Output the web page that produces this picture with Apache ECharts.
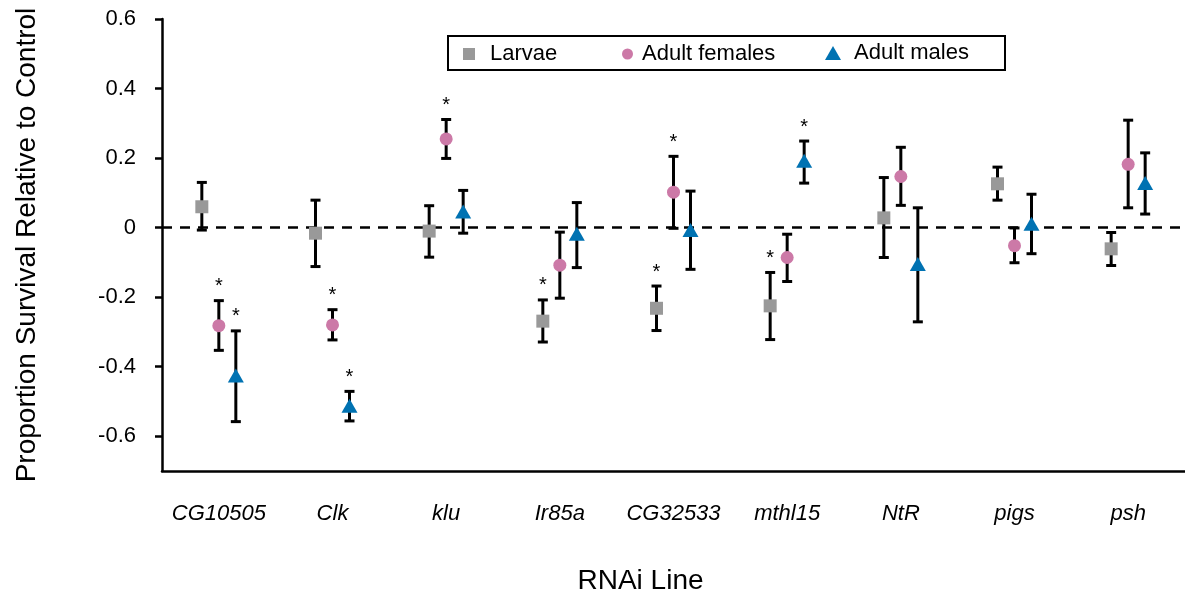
<!DOCTYPE html>
<html>
<head>
<meta charset="utf-8">
<script src="https://cdn.jsdelivr.net/npm/echarts@6/dist/echarts.min.js"></script>
<style>
  html, body { margin: 0; padding: 0; background: #ffffff; }
  #chart { width: 1185px; height: 600px; }
</style>
</head>
<body>
<div id="chart"></div>
<script>
// ---- Data ----
const categories = ['CG10505', 'Clk', 'klu', 'Ir85a', 'CG32533', 'mthl15', 'NtR', 'pigs', 'psh'];

const larvaeMean = [0.060, -0.016, -0.010, -0.269, -0.232, -0.225, 0.028, 0.126, -0.061];
const larvaeLow  = [-0.007, -0.112, -0.085, -0.329, -0.296, -0.322, -0.086, 0.079, -0.109];
const larvaeHigh = [0.130, 0.079, 0.063, -0.208, -0.168, -0.129, 0.144, 0.174, -0.014];
const larvaeSig  = [0, 0, 0, 1, 1, 1, 0, 0, 0];

const femalesMean = [-0.282, -0.280, 0.255, -0.108, 0.102, -0.086, 0.147, -0.052, 0.182];
const femalesLow  = [-0.353, -0.323, 0.199, -0.203, -0.002, -0.155, 0.064, -0.101, 0.057];
const femalesHigh = [-0.210, -0.236, 0.311, -0.013, 0.205, -0.019, 0.231, -0.001, 0.309];
const femalesSig  = [1, 1, 1, 0, 1, 0, 0, 0, 0];

const malesMean = [-0.425, -0.512, 0.046, -0.018, -0.007, 0.192, -0.105, 0.011, 0.128];
const malesLow  = [-0.558, -0.556, -0.016, -0.115, -0.120, 0.128, -0.271, -0.075, 0.039];
const malesHigh = [-0.297, -0.471, 0.107, 0.072, 0.105, 0.249, 0.057, 0.096, 0.215];
const malesSig  = [1, 1, 0, 0, 0, 1, 0, 0, 0];

const yTickValues = [-0.6, -0.4, -0.2, 0, 0.2, 0.4, 0.6];

// ---- Styling ----
const FONT = "'Liberation Sans', Arial, sans-serif";
const groups = [
  { name: 'Larvae', mean: larvaeMean, low: larvaeLow, high: larvaeHigh, sig: larvaeSig,
    color: '#999999', symbol: 'rect', size: 13, offset: -17 },
  { name: 'Adult females', mean: femalesMean, low: femalesLow, high: femalesHigh, sig: femalesSig,
    color: '#CC79A7', symbol: 'circle', size: 13, offset: 0 },
  { name: 'Adult males', mean: malesMean, low: malesLow, high: malesHigh, sig: malesSig,
    color: '#0072B2', symbol: 'triangle', size: [16, 14], offset: 17 }
];

function errorBarSeries(g) {
  return {
    type: 'custom',
    name: g.name + ' error',
    z: 3,
    silent: true,
    data: categories.map((c, i) => [i, g.low[i], g.high[i], g.sig[i]]),
    renderItem: function (params, api) {
      const xc = api.coord([api.value(0), 0])[0] + g.offset;
      const yLow = api.coord([api.value(0), api.value(1)])[1];
      const yHigh = api.coord([api.value(0), api.value(2)])[1];
      const capHalf = 5;
      const style = { stroke: '#000000', lineWidth: 3 };
      const children = [
        { type: 'line', shape: { x1: xc, y1: yLow, x2: xc, y2: yHigh }, style: style },
        { type: 'line', shape: { x1: xc - capHalf, y1: yHigh, x2: xc + capHalf, y2: yHigh }, style: style },
        { type: 'line', shape: { x1: xc - capHalf, y1: yLow, x2: xc + capHalf, y2: yLow }, style: style }
      ];
      if (api.value(3) === 1) {
        children.push({
          type: 'text',
          style: { text: '*', x: xc, y: yHigh - 14, align: 'center', verticalAlign: 'middle',
                   fontSize: 20, fontFamily: FONT, fill: '#000000' }
        });
      }
      return { type: 'group', children: children };
    }
  };
}

function pointSeries(g) {
  return {
    type: 'scatter',
    name: g.name,
    z: 5,
    symbol: g.symbol,
    symbolSize: g.size,
    symbolOffset: [g.offset, 0],
    itemStyle: { color: g.color, opacity: 1 },
    data: categories.map((c, i) => [i, g.mean[i]])
  };
}

const series = [];
groups.forEach(g => series.push(errorBarSeries(g)));
groups.forEach(g => series.push(pointSeries(g)));
// zero reference line
series[0].markLine = {
  silent: true,
  symbol: ['none', 'none'],
  label: { show: false },
  lineStyle: { color: '#000000', width: 2.5, type: [10, 8] },
  data: [{ yAxis: 0 }]
};

function legendText(padLeft) {
  return { fontSize: 22, fontFamily: FONT, color: '#000000', lineHeight: 24, padding: [0, 0, 0, padLeft] };
}

const option = {
  animation: false,
  backgroundColor: '#ffffff',
  grid: { left: 162, right: -7, top: 19, bottom: 129, containLabel: false },
  legend: [
    { top: 42, padding: 0, selectedMode: false, left: 463, itemWidth: 12, itemHeight: 12,
      textStyle: legendText(10), data: [{ name: 'Larvae', icon: 'rect' }] },
    { top: 42, padding: 0, selectedMode: false, left: 622, itemWidth: 11, itemHeight: 11,
      textStyle: legendText(4), data: [{ name: 'Adult females', icon: 'circle' }] },
    { top: 41, padding: 0, selectedMode: false, left: 825, itemWidth: 16, itemHeight: 14,
      textStyle: legendText(8), data: [{ name: 'Adult males', icon: 'triangle' }] }
  ],
  graphic: [{
    type: 'rect',
    shape: { x: 448, y: 36, width: 557, height: 34 },
    style: { fill: 'none', stroke: '#000000', lineWidth: 2 },
    z: 10, silent: true
  }],
  xAxis: {
    type: 'category',
    data: categories,
    boundaryGap: true,
    name: 'RNAi Line',
    nameLocation: 'middle',
    nameGap: 96,
    nameTextStyle: { fontSize: 28, fontFamily: FONT, color: '#000000', padding: [0, 66, 0, 0] },
    axisLine: { onZero: false, lineStyle: { color: '#000000', width: 2.5 } },
    axisTick: { alignWithLabel: true, length: 6, lineStyle: { color: '#000000', width: 2.5 } },
    axisLabel: { interval: 0, fontSize: 22, fontStyle: 'italic', fontFamily: FONT, color: '#000000', margin: 32 },
    splitLine: { show: false }
  },
  yAxis: {
    type: 'value',
    min: -0.7,
    max: 0.6,
    name: 'Proportion Survival Relative to Control',
    nameLocation: 'middle',
    nameGap: 121,
    nameTextStyle: { fontSize: 28, fontFamily: FONT, color: '#000000' },
    axisLine: { show: true, lineStyle: { color: '#000000', width: 2.5 } },
    axisTick: { show: true, length: 7, customValues: yTickValues, lineStyle: { color: '#000000', width: 2.5 } },
    axisLabel: {
      customValues: yTickValues,
      fontSize: 22, fontFamily: FONT, color: '#000000', margin: 26,
      formatter: v => (Math.abs(v) < 1e-9 ? '0' : v.toFixed(1))
    },
    splitLine: { show: false }
  },
  series: series
};

const chart = echarts.init(document.getElementById('chart'), null, { renderer: 'canvas' });
chart.setOption(option);
</script>
</body>
</html>
